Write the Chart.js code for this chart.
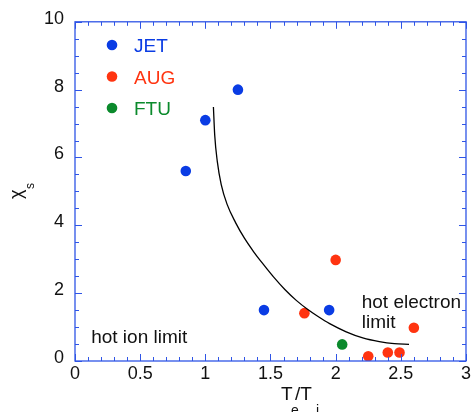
<!DOCTYPE html>
<html>
<head>
<meta charset="utf-8">
<script src="https://cdn.jsdelivr.net/npm/chart.js@4.4.1/dist/chart.umd.min.js"></script>
<style>
  html, body { margin: 0; padding: 0; background: #fff; }
  canvas { display: block; }
</style>
</head>
<body>
<canvas id="chi" width="473" height="412"></canvas>
<script>
// chi_s versus Te/Ti
const jetX = [0.85, 1.0, 1.25, 1.45, 1.95];
const jetY = [5.6, 7.1, 8.0, 1.5, 1.5];
const augX = [1.76, 2.0, 2.25, 2.4, 2.49, 2.6];
const augY = [1.41, 2.98, 0.14, 0.25, 0.25, 0.98];
const ftuX = [2.05];
const ftuY = [0.49];
// fitted curve
const fitX = [1.062, 1.072, 1.092, 1.122, 1.168, 1.232, 1.30, 1.371, 1.447, 1.523, 1.612, 1.70, 1.789, 1.865, 1.954, 2.081, 2.208, 2.335, 2.45, 2.563];
const fitY = [7.49, 6.66, 5.88, 5.20, 4.61, 4.08, 3.62, 3.22, 2.84, 2.48, 2.10, 1.78, 1.51, 1.31, 1.10, 0.86, 0.68, 0.57, 0.51, 0.49];
const xTicks = ['0', '0.5', '1', '1.5', '2', '2.5', '3'];
const yTicks = ['0', '2', '4', '6', '8', '10'];

const BLUE = '#0a3ce4';
const RED = '#ff3410';
const GREEN = '#0b8a2c';
const AXIS = '#2f55e6';
const FONT = '"Liberation Sans", Arial, Helvetica, sans-serif';

const pts = (xs, ys) => xs.map((x, i) => ({ x: x, y: ys[i] }));

// box + inward ticks on all four sides
const frame = {
    id: 'frame',
    afterDraw(chart) {
        const { ctx, chartArea: a, scales: { x, y } } = chart;
        ctx.save();
        ctx.strokeStyle = AXIS;
        ctx.lineWidth = 1;
        for (let i = 0; i <= 30; i++) {
            const v = i / 10;
            const px = Math.round(x.getPixelForValue(v)) + 0.5;
            const len = i % 5 === 0 ? 7 : 4;
            ctx.beginPath();
            ctx.moveTo(px, a.bottom); ctx.lineTo(px, a.bottom - len);
            ctx.moveTo(px, a.top); ctx.lineTo(px, a.top + len);
            ctx.stroke();
        }
        for (let i = 0; i <= 20; i++) {
            const v = i / 2;
            const py = Math.round(y.getPixelForValue(v)) + 0.5;
            const len = i % 4 === 0 ? 7 : 4;
            ctx.beginPath();
            ctx.moveTo(a.left, py); ctx.lineTo(a.left + len, py);
            ctx.moveTo(a.right, py); ctx.lineTo(a.right - len, py);
            ctx.stroke();
        }
        ctx.lineWidth = 1.3;
        ctx.strokeRect(a.left, a.top, a.right - a.left, a.bottom - a.top);
        ctx.restore();
    }
};

// legend, annotations and axis titles
const labels = {
    id: 'labels',
    afterDraw(chart) {
        const { ctx, scales: { x, y } } = chart;
        ctx.save();
        ctx.textBaseline = 'alphabetic';
        const legend = [['JET', BLUE], ['AUG', RED], ['FTU', GREEN]];
        legend.forEach(([name, col], i) => {
            const ly = 45 + i * 31.5;
            ctx.fillStyle = col;
            ctx.beginPath();
            ctx.arc(112, ly, 5.3, 0, Math.PI * 2);
            ctx.fill();
            ctx.font = '19px ' + FONT;
            ctx.fillText(name, 134, ly + 7);
        });

        ctx.fillStyle = '#111';
        ctx.font = '19px ' + FONT;
        ctx.fillText('hot ion limit', x.getPixelForValue(0.124), y.getPixelForValue(0.52));
        ctx.fillText('hot electron', x.getPixelForValue(2.2), y.getPixelForValue(1.57));
        ctx.fillText('limit', x.getPixelForValue(2.2), y.getPixelForValue(0.97));

        // T_e / T_i
        ctx.font = '19px ' + FONT;
        ctx.fillText('T', 281, 400);
        ctx.fillText('/T', 295, 400);
        ctx.font = '14px ' + FONT;
        ctx.fillText('e', 291, 415);
        ctx.fillText('i', 316, 415);

        // chi_s, rotated
        ctx.translate(22, 199);
        ctx.rotate(-Math.PI / 2);
        ctx.font = '18px ' + FONT;
        ctx.fillText('\u03c7', 0, 0);
        ctx.font = '12px ' + FONT;
        ctx.fillText('s', 10, 12);
        ctx.restore();
    }
};

new Chart(document.getElementById('chi'), {
    type: 'scatter',
    data: {
        datasets: [
            {
                label: 'fit',
                data: pts(fitX, fitY),
                showLine: true,
                borderColor: '#000',
                borderWidth: 1.3,
                pointRadius: 0,
                cubicInterpolationMode: 'monotone',
                fill: false
            },
            { label: 'JET', data: pts(jetX, jetY), backgroundColor: BLUE, borderWidth: 0, pointRadius: 5.3 },
            { label: 'AUG', data: pts(augX, augY), backgroundColor: RED, borderWidth: 0, pointRadius: 5.3 },
            { label: 'FTU', data: pts(ftuX, ftuY), backgroundColor: GREEN, borderWidth: 0, pointRadius: 5.3 }
        ]
    },
    options: {
        responsive: false,
        devicePixelRatio: 1,
        animation: false,
        layout: { padding: { top: 19, right: 0, left: 0, bottom: 0 } },
        plugins: {
            legend: { display: false },
            tooltip: { enabled: false }
        },
        scales: {
            x: {
                type: 'linear',
                min: 0,
                max: 3,
                grid: { display: false, drawTicks: false },
                border: { display: false },
                ticks: {
                    stepSize: 0.5,
                    padding: 2,
                    color: '#111',
                    font: { family: FONT, size: 18 },
                    callback: (v, i) => xTicks[i]
                },
                afterFit: (s) => { s.height = 51; }
            },
            y: {
                type: 'linear',
                min: 0,
                max: 10,
                grid: { display: false, drawTicks: false },
                border: { display: false },
                ticks: {
                    stepSize: 2,
                    padding: 11,
                    labelOffset: -3,
                    color: '#111',
                    font: { family: FONT, size: 18 },
                    callback: (v, i) => yTicks[i]
                },
                afterFit: (s) => { s.width = 75; }
            }
        }
    },
    plugins: [frame, labels]
});
</script>
</body>
</html>
